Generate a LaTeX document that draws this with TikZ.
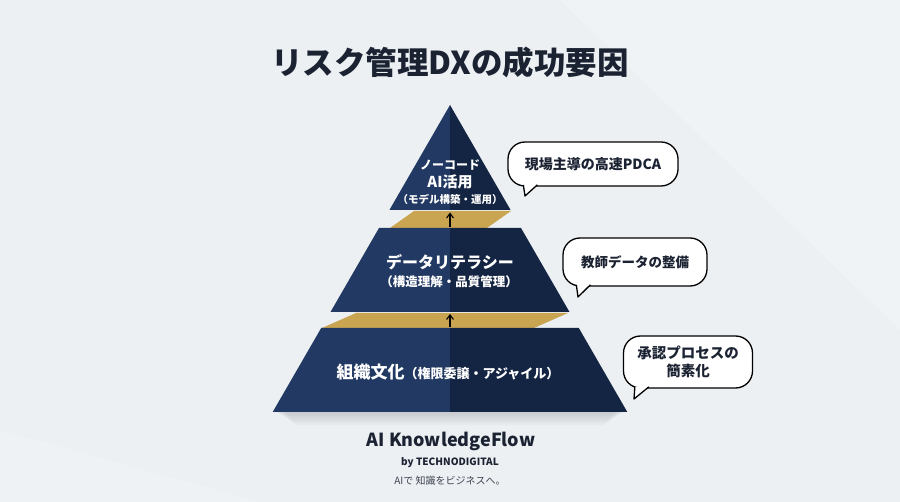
\documentclass[tikz,border=0pt]{standalone}
\usepackage{fontspec}
\setmainfont{Noto Sans CJK JP}
\usepackage{tikz}
\usetikzlibrary{positioning,arrows.meta}
\usepackage{xcolor}
\definecolor{navyL}{RGB}{34,58,99}
\definecolor{navyR}{RGB}{20,37,67}
\definecolor{gold}{RGB}{201,165,82}
\definecolor{ink}{RGB}{27,34,50}
\definecolor{bg}{RGB}{236,240,243}

\begin{document}
\begin{tikzpicture}[x=1pt,y=-1pt,>={Straight Barb[length=1.6mm,width=2.4mm]},
  tier/.style={text=white,inner sep=0pt},
  bubble/.style={draw=black,line width=1.3pt,fill=white,rounded corners=17pt,inner sep=0pt},
  tail/.style={draw=black,line width=1.3pt,fill=white,line join=round}]
% background
\fill[bg] (0,0) rectangle (900,502);
\fill[white,opacity=0.22] (560,0) -- (900,0) -- (900,330) -- cycle;
\fill[white,opacity=0.18] (0,430) -- (0,502) -- (260,502) -- cycle;
\useasboundingbox (0,0) rectangle (900,502);
% shadow
\foreach \k in {1,...,6}
  \fill[black,opacity=0.025] (273+\k*2,412) -- (627-\k*2,412) -- (622-\k*3,412+\k*2.2) -- (278+\k*3,412+\k*2.2) -- cycle;
% pyramid
\fill[navyL] (450,105) -- (389.4,210) -- (450,210) -- cycle;
\fill[navyR] (450,105) -- (510.6,210) -- (450,210) -- cycle;
\fill[gold] (414,211) -- (511,211) -- (487,228) -- (390,228) -- cycle;
\fill[navyL] (379,228) -- (450,228) -- (450,312) -- (330.5,312) -- cycle;
\fill[navyR] (450,228) -- (521,228) -- (569.5,312) -- (450,312) -- cycle;
\fill[gold] (356,313) -- (568,313) -- (534,328) -- (322,328) -- cycle;
\fill[navyL] (321.2,328) -- (450,328) -- (450,412) -- (272.7,412) -- cycle;
\fill[navyR] (450,328) -- (578.8,328) -- (627.3,412) -- (450,412) -- cycle;
\coordinate (g1b) at (450,227);
\coordinate (g1t) at (450,212.5);
\coordinate (g2b) at (450,327);
\coordinate (g2t) at (450,314);
\draw[->,line width=1.1pt] (g1b) -- (g1t);
\draw[->,line width=1.1pt] (g2b) -- (g2t);
% tier texts
\node[tier,font=\fontsize{12}{14}\bfseries] (t1a) at (450,165) {ノーコード};
\node[tier,font=\fontsize{15}{17}\bfseries] (t1b) at (450,182) {AI活用};
\node[tier,font=\fontsize{10.5}{12}\bfseries] (t1c) at (450,199) {（モデル構築・運用）};
\node[tier,font=\fontsize{16}{18}\bfseries] (t2a) at (450,262) {データリテラシー};
\node[tier,font=\fontsize{12.5}{14}\bfseries] (t2b) at (449,282) {（構造理解・品質管理）};
\node[tier,font=\bfseries] (t3) at (448,372) {\fontsize{17}{19}\selectfont 組織文化\fontsize{13}{15}\selectfont（権限委譲・アジャイル）};
% callouts
\node[bubble,minimum width=170pt,minimum height=44pt] (b1) at (593,164) {};
\filldraw[tail] ([xshift=16pt,yshift=1.8pt]b1.south west) -- (525,196) -- ([xshift=30pt,yshift=1.8pt]b1.south west);
\node[font=\fontsize{14}{16}\bfseries,text=ink] (c1) at (b1) {現場主導の高速PDCA};
\node[bubble,minimum width=144pt,minimum height=48pt] (b2) at (635,262) {};
\filldraw[tail] ([xshift=14pt,yshift=1.8pt]b2.south west) -- (578,297) -- ([xshift=28pt,yshift=1.8pt]b2.south west);
\node[font=\fontsize{13.5}{16}\bfseries,text=ink] (c2) at (b2) {教師データの整備};
\node[bubble,minimum width=129pt,minimum height=52pt] (b3) at (688,362) {};
\filldraw[tail] ([xshift=12pt,yshift=1.8pt]b3.south west) -- (634,399) -- ([xshift=26pt,yshift=1.8pt]b3.south west);
\node[font=\fontsize{14.5}{18}\bfseries,text=ink,align=center] (c3) at (b3) {承認プロセスの\\簡素化};
% title and footer
\node[font=\fontsize{31.5}{36}\bfseries,text=ink] (title) at (450,63) {リスク管理DXの成功要因};
\node[font=\fontsize{18}{20}\bfseries,text=ink] (brand) at (451,441) {AI KnowledgeFlow};
\node[font=\fontsize{10}{12}\bfseries,text=ink] (by) at (450,463) {by TECHNODIGITAL};
\node[font=\fontsize{10}{12}\selectfont,text=ink!85] (tag) at (450,481) {AIで 知識をビジネスへ。};
\end{tikzpicture}
\end{document}
